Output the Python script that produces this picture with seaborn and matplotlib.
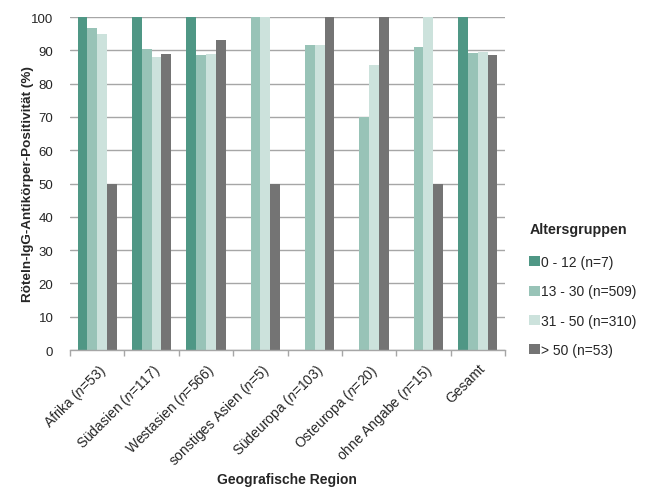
import numpy as np
import pandas as pd
import matplotlib
matplotlib.use("Agg")
import matplotlib.pyplot as plt
import matplotlib.transforms as mtransforms
import seaborn as sns

# Regions and their sample sizes
regions = ["Afrika", "Südasien", "Westasien", "sonstiges Asien",
           "Südeuropa", "Osteuropa", "ohne Angabe", "Gesamt"]
region_n = [53, 117, 566, 5, 103, 20, 15, None]

# Age groups
age_groups = ["0 - 12 (n=7)", "13 - 30 (n=509)", "31 - 50 (n=310)", "> 50 (n=53)"]

# Rubella IgG positivity (%) per age group, one value per region
pos_0_12 = [100, 100, 100, np.nan, np.nan, np.nan, np.nan, 100]
pos_13_30 = [96.7, 90.4, 88.6, 100, 91.7, 70.0, 90.9, 89.3]
pos_31_50 = [95.0, 88.1, 88.9, 100, 91.7, 85.7, 100, 89.5]
pos_over_50 = [50, 88.9, 93.2, 50, 100, 100, 50, 88.6]

colors = ["#4f9785", "#98c3b7", "#cce2dc", "#747474"]

sns.set_theme(style="white")
plt.rcParams["font.family"] = ["Liberation Sans", "DejaVu Sans"]
plt.rcParams["mathtext.fontset"] = "custom"
plt.rcParams["mathtext.rm"] = "Liberation Sans"
plt.rcParams["mathtext.it"] = "Liberation Sans:italic"

rows = []
for grp, vals in zip(age_groups, [pos_0_12, pos_13_30, pos_31_50, pos_over_50]):
    for reg, v in zip(regions, vals):
        rows.append({"Region": reg, "Altersgruppe": grp, "Wert": v})
df = pd.DataFrame(rows)

fig = plt.figure(figsize=(6.5, 4.89), dpi=100)
ax = fig.add_axes([0.1077, 0.2822, 0.6693, 0.6808])

sns.barplot(data=df, x="Region", y="Wert", hue="Altersgruppe",
            order=regions, hue_order=age_groups, palette=colors,
            width=0.72, gap=0, linewidth=0, saturation=1,
            errorbar=None, ax=ax, legend=True)

ax.set_ylim(0, 100)
ax.set_xlim(-0.5, len(regions) - 0.5)
ax.set_yticks(range(0, 101, 10))
ax.yaxis.grid(True, color="#a6a6a6", linewidth=1)
ax.set_axisbelow(True)
for side in ["left", "right", "top"]:
    ax.spines[side].set_visible(False)
ax.spines["bottom"].set_color("#a6a6a6")
ax.spines["bottom"].set_linewidth(1)

labels = []
for reg, n in zip(regions, region_n):
    if n is None:
        labels.append(reg)
    else:
        labels.append(reg + r" ($\mathit{n}$=" + str(n) + ")")
ax.set_xticks(range(len(regions)))
ax.set_xticklabels(labels, rotation=45, ha="right", rotation_mode="anchor",
                   fontsize=10)
shift = mtransforms.ScaledTranslation(-4 / 100, 0, fig.dpi_scale_trans)
for lab in ax.get_xticklabels():
    lab.set_transform(lab.get_transform() + shift)
ax.set_xticks(np.arange(-0.5, len(regions), 1.0), minor=True)
ax.tick_params(axis="x", which="major", length=0, pad=8)
ax.tick_params(axis="x", which="minor", length=4, width=1, color="#a6a6a6",
               direction="out", bottom=True)
ax.tick_params(axis="y", length=0, pad=12, labelsize=9.5)

ax.set_xlabel("")
fig.text(0.4415, 9 / 489, "Geografische Region", fontsize=10,
         fontweight="bold", ha="center", va="center")
ax.set_ylabel("Röteln-IgG-Antikörper-Positivität (%)", fontsize=9.7,
              fontweight="bold")
ax.yaxis.label.set_va("center")
ax.yaxis.set_label_coords(-0.0966, 0.5)

handles, lbls = ax.get_legend_handles_labels()
ax.get_legend().remove()
leg = fig.legend(handles, lbls, title="Altersgruppen", loc="upper left",
                 bbox_to_anchor=(0.795, 0.57), frameon=False, fontsize=10,
                 title_fontproperties={"weight": "bold", "size": 10.3},
                 handlelength=0.75, handleheight=0.75, handletextpad=0.1,
                 labelspacing=1.1, alignment="left")
leg._legend_box.sep = 14

fig.savefig("out.png", dpi=100)
